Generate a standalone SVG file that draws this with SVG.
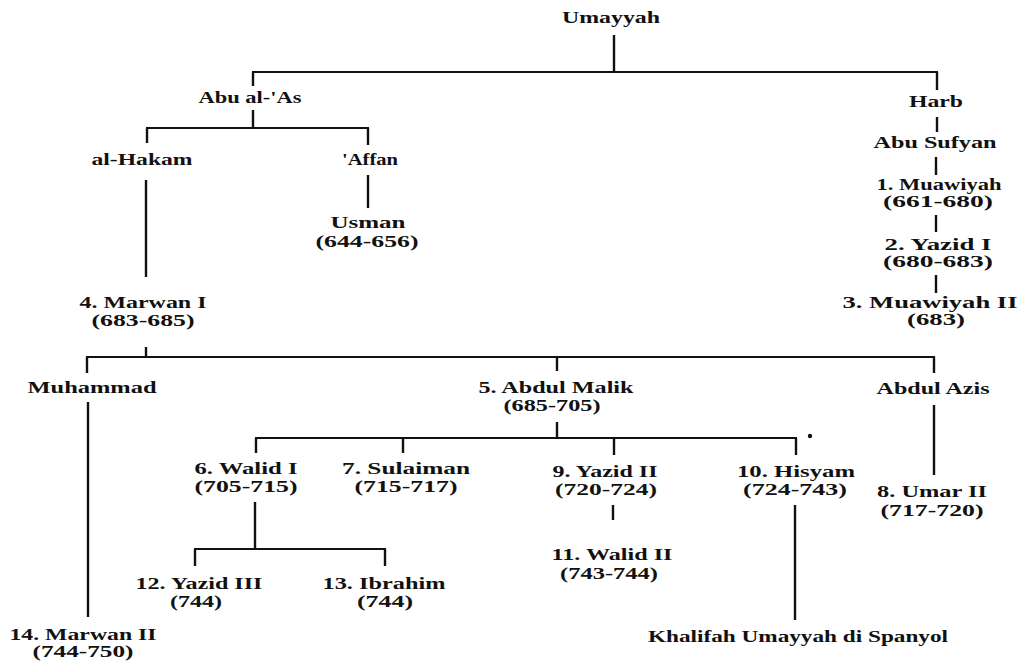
<svg xmlns="http://www.w3.org/2000/svg" width="1021" height="666" viewBox="0 0 1021 666">
<style>
text{font-family:"Liberation Serif","DejaVu Serif",serif;font-weight:bold;font-size:17px;fill:#111;text-anchor:middle}
.c line{stroke:#111;stroke-width:2;fill:none}
.c .v{stroke-width:2.4}
</style>
<rect width="1021" height="666" fill="#fff"/>
<g class="c" id="connectors">
<line class="v" x1="614" y1="35" x2="614" y2="72"/>
<line x1="252" y1="72" x2="938" y2="72"/>
<line class="v" x1="253" y1="72" x2="253" y2="86"/>
<line class="v" x1="937" y1="72" x2="937" y2="90"/>
<line class="v" x1="253" y1="110" x2="253" y2="128"/>
<line x1="146" y1="128" x2="369" y2="128"/>
<line class="v" x1="147" y1="128" x2="147" y2="143"/>
<line class="v" x1="368" y1="128" x2="368" y2="145"/>
<line class="v" x1="937" y1="117" x2="937" y2="132"/>
<line class="v" x1="936" y1="157" x2="936" y2="175"/>
<line class="v" x1="936" y1="215" x2="936" y2="232"/>
<line class="v" x1="936" y1="275" x2="936" y2="293"/>
<line class="v" x1="146" y1="180" x2="146" y2="277"/>
<line class="v" x1="368" y1="175" x2="368" y2="208"/>
<line class="v" x1="146" y1="347" x2="146" y2="357"/>
<line x1="86" y1="357" x2="935" y2="357"/>
<line class="v" x1="87" y1="357" x2="87" y2="373"/>
<line class="v" x1="557" y1="357" x2="557" y2="371"/>
<line class="v" x1="934" y1="357" x2="934" y2="373"/>
<line class="v" x1="88" y1="402" x2="88" y2="617"/>
<line class="v" x1="557" y1="422" x2="557" y2="438"/>
<line x1="255" y1="438" x2="797" y2="438"/>
<line class="v" x1="256" y1="438" x2="256" y2="453"/>
<line class="v" x1="403" y1="438" x2="403" y2="453"/>
<line class="v" x1="614" y1="438" x2="614" y2="455"/>
<line class="v" x1="796" y1="438" x2="796" y2="455"/>
<line class="v" x1="934" y1="405" x2="934" y2="475"/>
<line class="v" x1="255" y1="502" x2="255" y2="549"/>
<line x1="194" y1="549" x2="386" y2="549"/>
<line class="v" x1="195" y1="549" x2="195" y2="566"/>
<line class="v" x1="385" y1="549" x2="385" y2="566"/>
<line class="v" x1="613" y1="505" x2="613" y2="520"/>
<line class="v" x1="795" y1="505" x2="795" y2="620"/>
<circle cx="810" cy="436" r="2.2" fill="#111"/>
</g>
<g id="umayyah"><text x="611" y="23" textLength="98" lengthAdjust="spacingAndGlyphs">Umayyah</text></g>
<g id="abu-al-as"><text x="250" y="103" textLength="103" lengthAdjust="spacingAndGlyphs">Abu al-'As</text></g>
<g id="harb"><text x="936" y="107" textLength="54" lengthAdjust="spacingAndGlyphs">Harb</text></g>
<g id="abu-sufyan"><text x="935" y="148" textLength="123" lengthAdjust="spacingAndGlyphs">Abu Sufyan</text></g>
<g id="muawiyah"><text x="939" y="190" textLength="125" lengthAdjust="spacingAndGlyphs">1. Muawiyah</text><text x="938" y="207" textLength="110" lengthAdjust="spacingAndGlyphs">(661-680)</text></g>
<g id="yazid-i"><text x="938" y="250" textLength="107" lengthAdjust="spacingAndGlyphs">2. Yazid I</text><text x="938" y="267" textLength="110" lengthAdjust="spacingAndGlyphs">(680-683)</text></g>
<g id="muawiyah-ii"><text x="930" y="308" textLength="175" lengthAdjust="spacingAndGlyphs">3. Muawiyah II</text><text x="936" y="325" textLength="58" lengthAdjust="spacingAndGlyphs">(683)</text></g>
<g id="al-hakam"><text x="142" y="165" textLength="101" lengthAdjust="spacingAndGlyphs">al-Hakam</text></g>
<g id="affan"><text x="370" y="165" textLength="56" lengthAdjust="spacingAndGlyphs">'Affan</text></g>
<g id="usman"><text x="368" y="228" textLength="75" lengthAdjust="spacingAndGlyphs">Usman</text><text x="367" y="247" textLength="103" lengthAdjust="spacingAndGlyphs">(644-656)</text></g>
<g id="marwan-i"><text x="143" y="308" textLength="127" lengthAdjust="spacingAndGlyphs">4. Marwan I</text><text x="143" y="326" textLength="103" lengthAdjust="spacingAndGlyphs">(683-685)</text></g>
<g id="muhammad"><text x="92" y="393" textLength="129" lengthAdjust="spacingAndGlyphs">Muhammad</text></g>
<g id="abdul-malik"><text x="556" y="393" textLength="155" lengthAdjust="spacingAndGlyphs">5. Abdul Malik</text><text x="552" y="411" textLength="97" lengthAdjust="spacingAndGlyphs">(685-705)</text></g>
<g id="abdul-azis"><text x="933" y="394" textLength="113" lengthAdjust="spacingAndGlyphs">Abdul Azis</text></g>
<g id="walid-i"><text x="246" y="474" textLength="103" lengthAdjust="spacingAndGlyphs">6. Walid I</text><text x="246" y="492" textLength="103" lengthAdjust="spacingAndGlyphs">(705-715)</text></g>
<g id="sulaiman"><text x="406" y="474" textLength="128" lengthAdjust="spacingAndGlyphs">7. Sulaiman</text><text x="406" y="492" textLength="103" lengthAdjust="spacingAndGlyphs">(715-717)</text></g>
<g id="yazid-ii"><text x="605" y="477" textLength="105" lengthAdjust="spacingAndGlyphs">9. Yazid II</text><text x="606" y="495" textLength="102" lengthAdjust="spacingAndGlyphs">(720-724)</text></g>
<g id="hisyam"><text x="796" y="477" textLength="118" lengthAdjust="spacingAndGlyphs">10. Hisyam</text><text x="795" y="495" textLength="104" lengthAdjust="spacingAndGlyphs">(724-743)</text></g>
<g id="umar-ii"><text x="932" y="497" textLength="110" lengthAdjust="spacingAndGlyphs">8. Umar II</text><text x="932" y="516" textLength="103" lengthAdjust="spacingAndGlyphs">(717-720)</text></g>
<g id="walid-ii"><text x="612" y="560" textLength="121" lengthAdjust="spacingAndGlyphs">11. Walid II</text><text x="609" y="579" textLength="98" lengthAdjust="spacingAndGlyphs">(743-744)</text></g>
<g id="yazid-iii"><text x="199" y="589" textLength="127" lengthAdjust="spacingAndGlyphs">12. Yazid III</text><text x="196" y="607" textLength="52" lengthAdjust="spacingAndGlyphs">(744)</text></g>
<g id="ibrahim"><text x="384" y="589" textLength="123" lengthAdjust="spacingAndGlyphs">13. Ibrahim</text><text x="385" y="607" textLength="56" lengthAdjust="spacingAndGlyphs">(744)</text></g>
<g id="spanyol"><text x="798" y="642" textLength="300" lengthAdjust="spacingAndGlyphs">Khalifah Umayyah di Spanyol</text></g>
<g id="marwan-ii"><text x="83" y="640" textLength="147" lengthAdjust="spacingAndGlyphs">14. Marwan II</text><text x="83" y="657" textLength="101" lengthAdjust="spacingAndGlyphs">(744-750)</text></g>
</svg>
